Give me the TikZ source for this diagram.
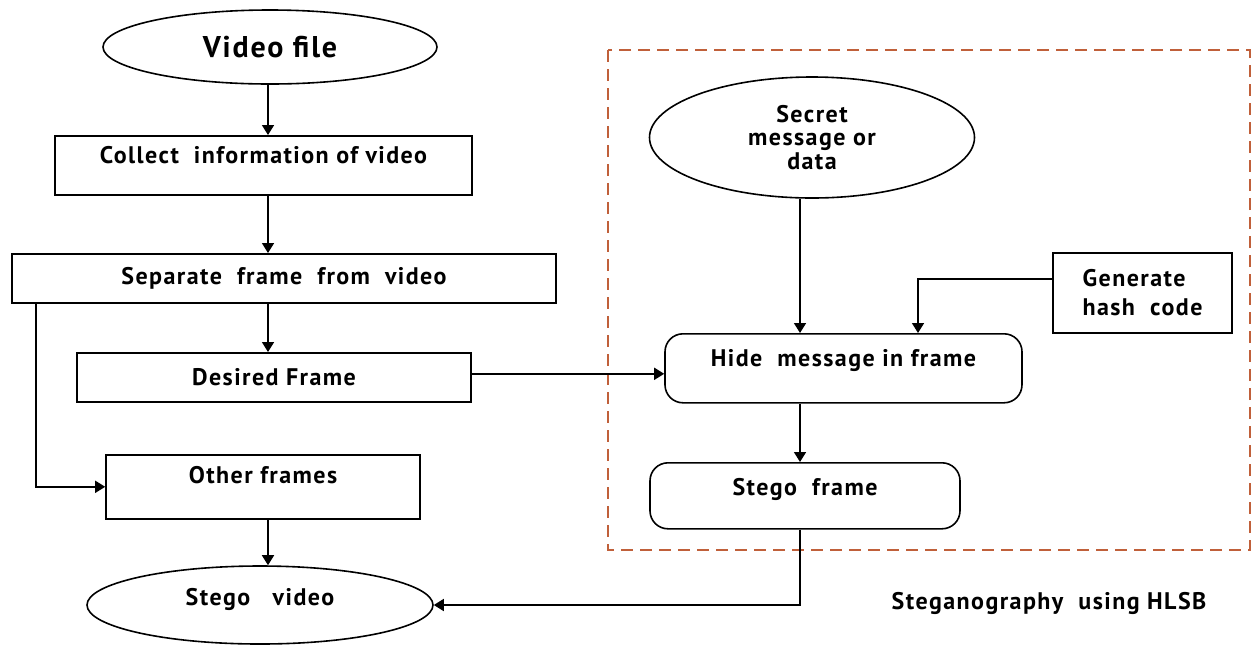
\documentclass[tikz,border=0pt]{standalone}
\usepackage{fontspec}
\setmainfont[LetterSpace=6]{PT Sans}
\usetikzlibrary{shapes.geometric,arrows.meta}

\definecolor{dashred}{RGB}{192,96,58}

\begin{document}
\begin{tikzpicture}[x=0.5pt, y=-0.5pt,
  every node/.style = {draw, line width=0.8pt, inner sep=0pt, align=center,
    font=\bfseries\fontsize{12}{14.5}\selectfont},
  oval/.style = {ellipse},
  box/.style = {rectangle},
  rbox/.style = {rectangle, rounded corners=9pt},
  arr/.style = {line width=0.8pt, -{Triangle[width=6pt,length=5pt]}}]
  \useasboundingbox (0,0) rectangle (1258,644);
  % embedding part
  \draw[dashred, line width=1pt, dash pattern=on 6pt off 3.5pt] (608,50) rectangle (1250,550);
  % left column
  \node[oval, minimum width=167pt, minimum height=37pt,
    font=\bfseries\fontsize{15}{18}\selectfont] (vfile) at (270,47) {Video file};
  \node[box, anchor=north, minimum width=208.5pt, text height=13.75pt, text depth=15.75pt]
    (collect) at (263.5,135) {Collect\ \ information of video};
  \node[box, anchor=north, minimum width=272pt, minimum height=24.5pt]
    (separate) at (284,253) {Separate\ \ frame\ \ from\ \ video};
  \node[box, anchor=north, minimum width=197pt, minimum height=24.5pt]
    (desired) at (274,352) {Desired Frame};
  \node[box, anchor=north, minimum width=157pt, text height=14.25pt, text depth=17.75pt]
    (other) at (263,454) {Other frames};
  \node[oval, minimum width=173pt, minimum height=39pt, text height=6pt, text depth=6pt]
    (svideo) at (260,605) {Stego\ \ \ video};
  % right column
  \node[oval, minimum width=162.5pt, minimum height=60.5pt,
    font=\bfseries\fontsize{12}{11.75}\selectfont] (secret) at (812,137.5) {Secret\\message or\\data};
  \node[box, anchor=north, minimum width=89.5pt, minimum height=40pt, align=left]
    (gen) at (1142.5,252) {Generate\\hash\ \ code};
  \node[rbox, anchor=north, minimum width=178.5pt, text height=16.25pt, text depth=18.25pt]
    (hide) at (843.5,333) {Hide\ \ message in frame};
  \node[rbox, anchor=north, minimum width=155pt, text height=16.25pt, text depth=16.75pt]
    (sframe) at (805,462) {Stego\ \ frame};
  \node[draw=none] (title) at (1049,603) {Steganography\ \ using HLSB};
  % connectors
  \draw[arr] ([xshift=-1pt]vfile.south) -- ([xshift=-1pt]vfile.south |- collect.north);
  \draw[arr] ([xshift=2.25pt]collect.south) -- ([xshift=2.25pt]collect.south |- separate.north);
  \draw[arr] ([xshift=-3pt]desired.north |- separate.south) -- ([xshift=-3pt]desired.north);
  \draw[arr] ([xshift=12.5pt]separate.south west) |- (other.west);
  \draw[arr] ([xshift=2.5pt]other.south) -- ([xshift=2.5pt]other.south |- svideo.north);
  \draw[arr] ([yshift=1.75pt]desired.east) coordinate (d1) -- (hide.west |- d1);
  \draw[arr] ([xshift=-6pt]secret.south) -- ([xshift=-6pt]secret.south |- hide.north);
  \draw[arr] ([yshift=7pt]gen.west) -| ([xshift=37.25pt]hide.north);
  \draw[arr] ([xshift=-21.75pt]hide.south) -- ([xshift=-21.75pt]hide.south |- sframe.north);
  \draw[arr] ([xshift=-2.5pt]sframe.south) |- (svideo.east);
\end{tikzpicture}
\end{document}
